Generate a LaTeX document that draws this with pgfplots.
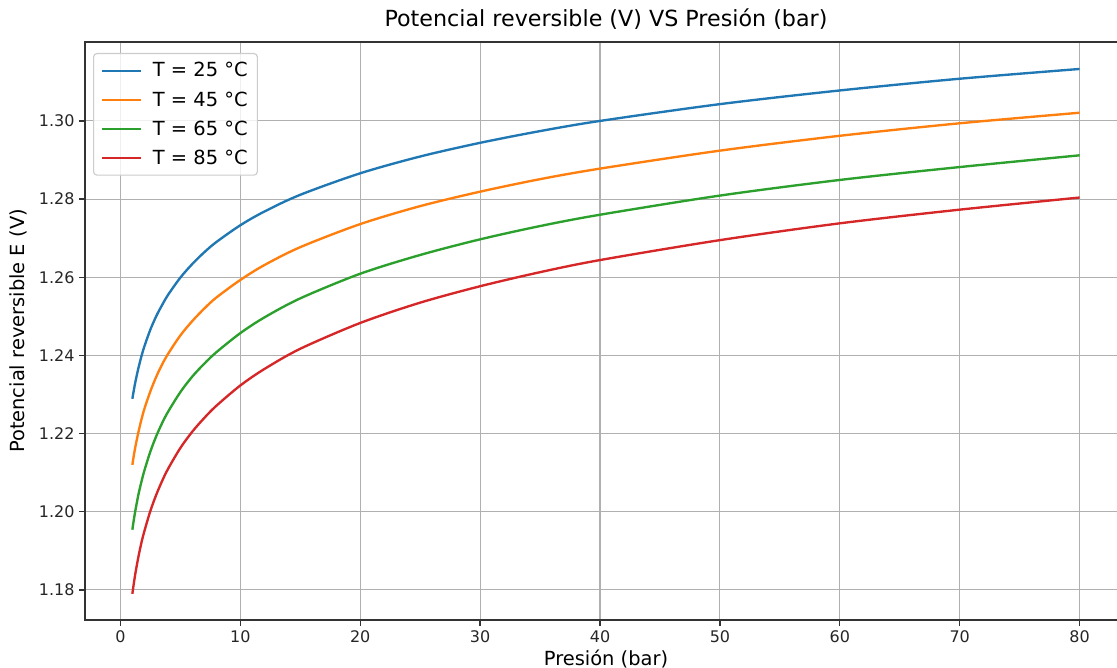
\documentclass[border=0pt]{standalone}
\usepackage{pgfplots}
\pgfplotsset{compat=1.18}
\usepackage{fontspec}
\setmainfont{DejaVu Sans}
\definecolor{tabblue}{HTML}{1F77B4}
\definecolor{taborange}{HTML}{FF7F0E}
\definecolor{tabgreen}{HTML}{2CA02C}
\definecolor{tabred}{HTML}{D62728}
\definecolor{gridgray}{HTML}{B0B0B0}
\definecolor{leggray}{HTML}{CCCCCC}
\begin{document}
\begin{tikzpicture}
\useasboundingbox (-61.2pt,-34.56pt) rectangle (743.04pt,446.4pt);
\begin{axis}[
  at={(0pt,0pt)}, anchor=south west,
  scale only axis, width=750.24pt, height=416.16pt,
  xmin=-2.95, xmax=83.95, ymin=1.1723, ymax=1.3202,
  xtick={0,10,...,80},
  ytick={1.18,1.20,1.22,1.24,1.26,1.28,1.30},
  yticklabel style={/pgf/number format/.cd, fixed, fixed zerofill, precision=2},
  /pgf/number format/assume math mode=true,
  tick label style={font=\fontsize{11.5}{13}\selectfont, text=black!85},
  tick align=outside, xtick pos=lower, ytick pos=left,
  major tick length=4pt,
  every tick/.style={black!80, line width=0.9pt},
  axis line style={black!80, line width=0.9pt},
  grid=major,
  major grid style={color=gridgray, line width=0.8pt},
  title={Potencial reversible (V) VS Presión (bar)},
  title style={font=\fontsize{16}{19}\selectfont, at={(axis description cs:0.5,1.026)}, anchor=center},
  xlabel={Presión (bar)},
  ylabel={Potencial reversible E (V)},
  label style={font=\fontsize{14}{17}\selectfont},
  xlabel style={at={(axis description cs:0.5,-0.0673)}, anchor=center},
  ylabel style={at={(axis description cs:-0.0643,0.5)}, anchor=center},
  legend cell align=left,
  legend style={at={(0.0077,0.981)}, anchor=north west, draw=leggray, rounded corners=2.5pt, fill=white, fill opacity=0.8, text opacity=1, font=\fontsize{14}{17}\selectfont, inner xsep=5pt, inner ysep=4.5pt, row sep=5pt, line width=0.8pt, /tikz/every odd column/.append style={column sep=6pt}},
  legend image code/.code={\draw[#1, line width=1.7pt] (0pt,0pt) -- (28pt,0pt);},
  every axis plot/.append style={line width=1.7pt, smooth},
]
\addplot[tabblue] coordinates {
(1,1.2289) (1.1,1.2307) (1.25,1.2332) (1.5,1.2367) (1.75,1.2397) (2,1.2423) (2.5,1.2466) (3,1.2501) (3.5,1.2530) (4,1.2556) (5,1.2599) (6,1.2634) (7,1.2664) (8,1.2690) (10,1.2733) (12,1.2768) (15,1.2811) (20,1.2866) (25,1.2909) (30,1.2944) (35,1.2974) (40,1.3000) (50,1.3043) (60,1.3078) (70,1.3108) (80,1.3133)
};
\addlegendentry{T = 25 °C}
\addplot[taborange] coordinates {
(1,1.2120) (1.1,1.2140) (1.25,1.2166) (1.5,1.2203) (1.75,1.2235) (2,1.2263) (2.5,1.2308) (3,1.2346) (3.5,1.2378) (4,1.2405) (5,1.2451) (6,1.2488) (7,1.2520) (8,1.2548) (10,1.2593) (12,1.2631) (15,1.2677) (20,1.2736) (25,1.2782) (30,1.2819) (35,1.2851) (40,1.2878) (50,1.2924) (60,1.2962) (70,1.2994) (80,1.3021)
};
\addlegendentry{T = 45 °C}
\addplot[tabgreen] coordinates {
(1,1.1954) (1.1,1.1975) (1.25,1.2003) (1.5,1.2043) (1.75,1.2076) (2,1.2105) (2.5,1.2154) (3,1.2194) (3.5,1.2228) (4,1.2257) (5,1.2306) (6,1.2346) (7,1.2379) (8,1.2408) (10,1.2457) (12,1.2497) (15,1.2546) (20,1.2609) (25,1.2657) (30,1.2697) (35,1.2731) (40,1.2760) (50,1.2809) (60,1.2849) (70,1.2882) (80,1.2912)
};
\addlegendentry{T = 65 °C}
\addplot[tabred] coordinates {
(1,1.1790) (1.1,1.1812) (1.25,1.1842) (1.5,1.1884) (1.75,1.1920) (2,1.1950) (2.5,1.2002) (3,1.2044) (3.5,1.2080) (4,1.2111) (5,1.2163) (6,1.2205) (7,1.2240) (8,1.2271) (10,1.2323) (12,1.2365) (15,1.2417) (20,1.2483) (25,1.2535) (30,1.2577) (35,1.2613) (40,1.2644) (50,1.2695) (60,1.2738) (70,1.2773) (80,1.2804)
};
\addlegendentry{T = 85 °C}
\end{axis}
\end{tikzpicture}
\end{document}
